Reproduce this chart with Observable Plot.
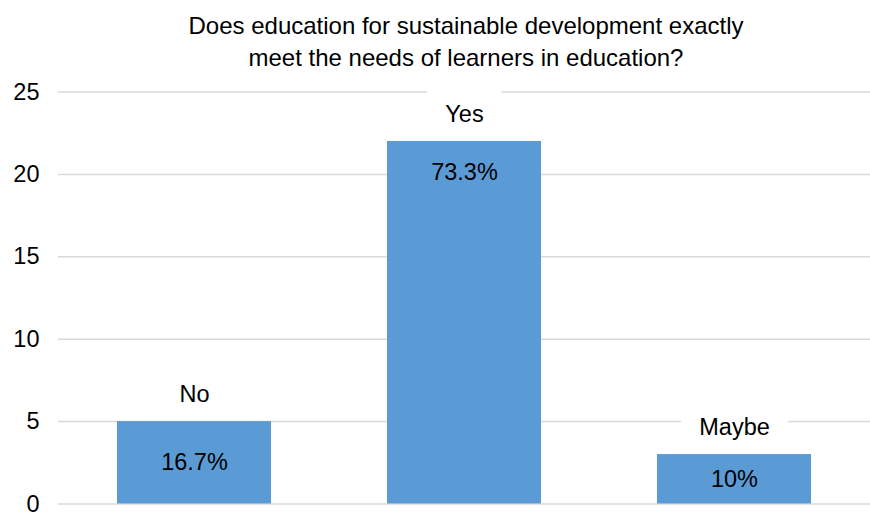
<!DOCTYPE html>
<html>
<head>
<meta charset="utf-8">
<script src="https://cdn.jsdelivr.net/npm/d3@7"></script>
<script src="https://cdn.jsdelivr.net/npm/@observablehq/plot@0.6"></script>
<style>
  html, body { margin: 0; padding: 0; background: #fff; }
  #wrap { width: 870px; height: 512px; overflow: hidden; font-family: "Liberation Sans", Arial, sans-serif; }
  #title { box-sizing: border-box; width: 870px; height: 76px; padding: 10px 0 0 62px; text-align: center;
           font-size: 24px; line-height: 32px; color: #000; }
  svg { display: block; }
</style>
</head>
<body>
<div id="wrap">
  <div id="title">Does education for sustainable development exactly<br>meet the needs of learners in education?</div>
  <div id="chart"></div>
</div>
<script>
const categories = ["No", "Yes", "Maybe"];
const counts = [5, 22, 3];
const pctLabels = ["16.7%", "73.3%", "10%"];
const yTicks = [0, 5, 10, 15, 20, 25];

const data = categories.map((c, i) => ({cat: c, v: counts[i], pct: pctLabels[i]}));

const font = "Liberation Sans, Arial, sans-serif";
const chart = Plot.plot({
  width: 870,
  height: 436,
  marginLeft: 58,
  marginRight: 0,
  marginTop: 15.5,
  marginBottom: 8.5,
  style: {fontFamily: font, fontSize: "23.5px", color: "#000", background: "#fff"},
  x: {domain: categories, paddingInner: 0.428, paddingOuter: 0.214, axis: null},
  y: {domain: [0, 25], ticks: yTicks, tickSize: 0, tickPadding: 19, label: null},
  marks: [
    Plot.gridY(yTicks, {stroke: "#d9d9d9", strokeOpacity: 1, strokeWidth: 1.5}),
    Plot.barY(data, {x: "cat", y: "v", fill: "#5b9bd5"}),
    Plot.text(data, {x: "cat", y: "v", text: "cat", dy: -27, lineAnchor: "middle", fill: "#000", fontSize: 23.5}),
    Plot.text(data, {x: "cat", y: d => (d.v > 10 ? d.v - 1.9 : d.v / 2), text: "pct", lineAnchor: "middle", fill: "#000", fontSize: 23.5})
  ]
});
document.getElementById("chart").appendChild(chart);

// white label backgrounds behind category labels (as in the source chart)
chart.querySelectorAll("text").forEach(t => {
  if (!categories.includes(t.textContent)) return;
  const b = t.getBBox();
  const r = document.createElementNS("http://www.w3.org/2000/svg", "rect");
  const padX = 18, padY = 12;
  r.setAttribute("x", b.x - padX);
  r.setAttribute("y", b.y - padY);
  r.setAttribute("width", b.width + 2 * padX);
  r.setAttribute("height", b.height + 2 * padY);
  r.setAttribute("fill", "#fff");
  if (t.getAttribute("transform")) r.setAttribute("transform", t.getAttribute("transform"));
  t.parentNode.insertBefore(r, t);
});
</script>
</body>
</html>
